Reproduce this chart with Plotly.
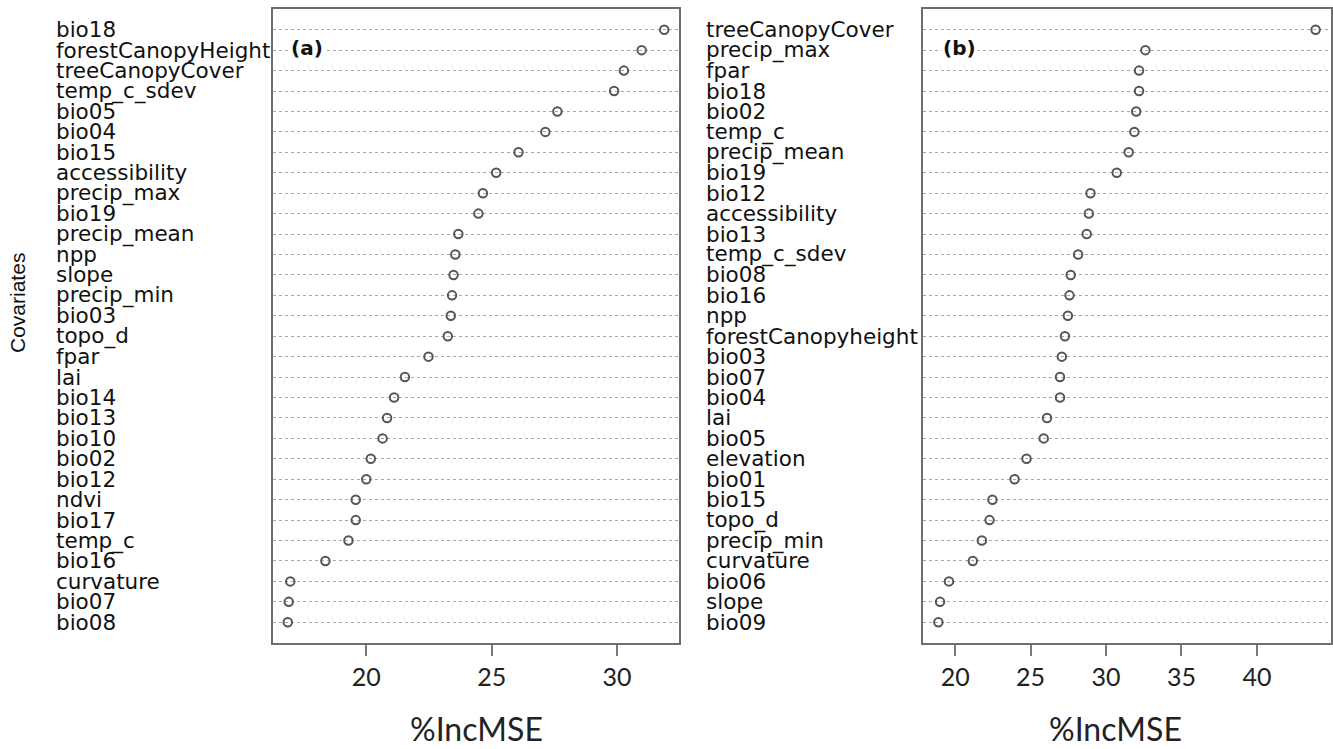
import plotly.graph_objects as go

W, H = 1333, 749

# Panel (a)
left_vars = ["bio18", "forestCanopyHeight", "treeCanopyCover", "temp_c_sdev", "bio05", "bio04",
             "bio15", "accessibility", "precip_max", "bio19", "precip_mean", "npp", "slope",
             "precip_min", "bio03", "topo_d", "fpar", "lai", "bio14", "bio13", "bio10", "bio02",
             "bio12", "ndvi", "bio17", "temp_c", "bio16", "curvature", "bio07", "bio08"]
left_vals = [31.88, 30.98, 30.27, 29.88, 27.62, 27.14, 26.07, 25.18, 24.65, 24.47, 23.67, 23.55,
             23.48, 23.42, 23.37, 23.25, 22.48, 21.54, 21.11, 20.83, 20.65, 20.18, 20.0, 19.58,
             19.58, 19.29, 18.37, 16.97, 16.91, 16.87]

# Panel (b)
right_vars = ["treeCanopyCover", "precip_max", "fpar", "bio18", "bio02", "temp_c", "precip_mean",
              "bio19", "bio12", "accessibility", "bio13", "temp_c_sdev", "bio08", "bio16", "npp",
              "forestCanopyheight", "bio03", "bio07", "bio04", "lai", "bio05", "elevation", "bio01",
              "bio15", "topo_d", "precip_min", "curvature", "bio06", "slope", "bio09"]
right_vals = [43.89, 32.61, 32.19, 32.19, 32.0, 31.88, 31.5, 30.71, 28.97, 28.86, 28.72, 28.15,
              27.66, 27.58, 27.47, 27.28, 27.07, 26.95, 26.95, 26.09, 25.87, 24.73, 23.94, 22.47,
              22.28, 21.77, 21.17, 19.59, 19.0, 18.89]

left_ticks = [20, 25, 30]
right_ticks = [20, 25, 30, 35, 40]
x_title = "%IncMSE"
y_title = "Covariates"
panel_tags = ["(a)", "(b)"]


def rows(n):
    return list(range(n, 0, -1))


def padded(vals, frac=0.04):
    lo, hi = min(vals), max(vals)
    d = (hi - lo) * frac
    return [lo - d, hi + d]


fig = go.Figure()
marker = dict(symbol="circle-open", size=8.5, color="#555555", line=dict(width=2, color="#555555"))
fig.add_trace(go.Scatter(x=left_vals, y=rows(len(left_vals)), mode="markers", marker=marker,
                         xaxis="x", yaxis="y", showlegend=False, cliponaxis=False))
fig.add_trace(go.Scatter(x=right_vals, y=rows(len(right_vals)), mode="markers", marker=marker,
                         xaxis="x2", yaxis="y2", showlegend=False, cliponaxis=False))

ydom = [1 - 642.7 / H, 1 - 9.3 / H]
xdom1 = [272.7 / W, 679.3 / W]
xdom2 = [923.3 / W, 1330.7 / W]

tickfont = dict(family="Lato, Open Sans, sans-serif", size=25, color="#222222")
xcommon = dict(showline=True, mirror=True, linecolor="#6e6e6e", linewidth=1.6,
               ticks="outside", ticklen=11, tickwidth=1.6, tickcolor="#7a7a7a",
               showgrid=False, zeroline=False, tickfont=tickfont)
ycommon = dict(range=[0, 31], showline=True, mirror=True, linecolor="#6e6e6e", linewidth=1.6,
               showgrid=True, gridcolor="#a8a8a8", griddash="dot", gridwidth=1.3,
               showticklabels=False, ticks="", zeroline=False)

fig.update_layout(
    width=W, height=H, margin=dict(l=0, r=0, t=0, b=0),
    paper_bgcolor="white", plot_bgcolor="white",
    xaxis=dict(domain=xdom1, range=padded(left_vals), tickvals=left_ticks, anchor="y", **xcommon),
    yaxis=dict(domain=ydom, anchor="x", tickvals=rows(len(left_vals)), **ycommon),
    xaxis2=dict(domain=xdom2, range=padded(right_vals), tickvals=right_ticks, anchor="y2", **xcommon),
    yaxis2=dict(domain=ydom, anchor="x2", tickvals=rows(len(right_vals)), **ycommon),
)

labfont = dict(family="DejaVu Sans, sans-serif", size=21.5, color="#111111")
annotations = []
for names, yref, xpx in [(left_vars, "y", 54), (right_vars, "y2", 704)]:
    for name, r in zip(names, rows(len(names))):
        annotations.append(dict(text=name, xref="paper", x=xpx / W, xanchor="left",
                                yref=yref, y=r, yanchor="middle", showarrow=False,
                                font=labfont))

annotations.append(dict(text=y_title, xref="paper", yref="paper", x=17 / W, y=1 - 303 / H,
                        textangle=-90, showarrow=False, xanchor="center", yanchor="middle",
                        font=dict(family="Liberation Sans, Arial, sans-serif", size=21, color="#111111")))
for cx in [476, 1115]:
    annotations.append(dict(text=x_title, xref="paper", yref="paper", x=cx / W, y=0,
                            showarrow=False, xanchor="center", yanchor="bottom", borderpad=0,
                            font=dict(family="Lato, Open Sans, sans-serif", size=32, color="#222222")))
for tag, cx in zip(panel_tags, [307, 960]):
    annotations.append(dict(text="<b>" + tag + "</b>", xref="paper", yref="paper", x=cx / W,
                            y=1 - 48 / H, showarrow=False, xanchor="center", yanchor="middle",
                            bgcolor="white",
                            font=dict(family="DejaVu Sans, sans-serif", size=20, color="#111111")))

fig.update_layout(annotations=annotations)
fig.write_html("out.html", config={"displayModeBar": False},
               post_script="document.body.style.margin='0';document.body.style.overflow='hidden';")
